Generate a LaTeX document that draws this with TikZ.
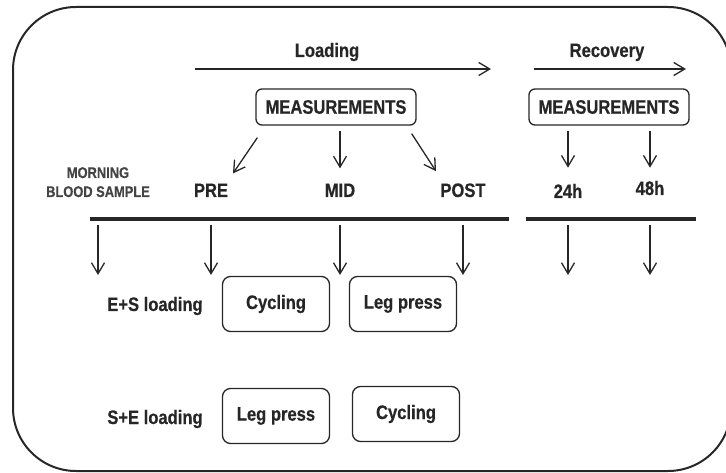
\documentclass[tikz,border=0pt]{standalone}
\usepackage{fontspec}
\usetikzlibrary{arrows.meta,positioning}
\newfontfamily\labfont{Liberation Sans}[FakeStretch=0.85,FakeBold=0.5]
\newfontfamily\notefont{Liberation Sans}[FakeStretch=0.83,FakeBold=0.4]
\definecolor{ink}{HTML}{262626}
\definecolor{note}{HTML}{444444}

\begin{document}
\begin{tikzpicture}[x=1pt,y=-1pt,on grid,
    >={Straight Barb[length=11pt,width=13pt]},
    arr/.style={->,draw=ink,line width=1.3pt},
    timeline/.style={draw=ink,line width=3.6pt},
    lab/.style={font=\labfont\bfseries\fontsize{19.5pt}{21pt}\selectfont,text=ink,inner sep=0pt,anchor=base},
    notelab/.style={font=\notefont\bfseries\fontsize{15.5pt}{17pt}\selectfont,text=note,inner sep=0pt,anchor=base},
    mbox/.style={draw=ink,line width=1.3pt,rounded corners=6pt,minimum width=160pt,minimum height=36pt,inner sep=0pt,
      font=\labfont\bfseries\fontsize{19.5pt}{21pt}\selectfont,text=ink},
    exbox/.style={draw=ink,line width=1.3pt,rounded corners=8pt,minimum width=107pt,minimum height=55pt,inner sep=0pt,
      font=\labfont\bfseries\fontsize{19.5pt}{21pt}\selectfont,text=ink}]
  \useasboundingbox (0,0) rectangle (726,473);
  \clip (0,0) rectangle (726,473);
  \draw[draw=ink,line width=2pt,rounded corners=63pt] (13,7) rectangle (731,471);

  \node[lab] (load) at (327,57) {Loading};
  \node[lab] (rec) at (607,57) {Recovery};
  \coordinate (l_a) at (195,69);
  \coordinate (l_b) at (491,69);
  \coordinate (r_a) at (534,69);
  \coordinate (r_b) at (686,69);
  \draw[arr] (l_a) -- (l_b);
  \draw[arr] (r_a) -- (r_b);

  \node[mbox] (m_1) at (336,107) {MEASUREMENTS};
  \node[mbox] (m_2) at (609,107) {MEASUREMENTS};

  \node[notelab] (morn) at (98,178) {MORNING};
  \node[notelab] (blood) at (98,197) {BLOOD SAMPLE};
  \node[lab] (pre) at (211,197) {PRE};
  \node[lab] (mid) at (340,197) {MID};
  \node[lab] (post) at (463,197) {POST};
  \node[lab] (h_24) at (568,198) {24h};
  \node[lab] (h_48) at (650,195) {48h};

  \draw[arr] ([xshift=2pt,yshift=-12pt]m_1.south west) -- ([xshift=22pt,yshift=10pt]pre.north);
  \draw[arr] ([xshift=-5pt,yshift=-8pt]m_1.south east) -- ([xshift=-27pt,yshift=12pt]post.north);
  \draw[arr,shorten <=5pt,shorten >=15pt] (m_1.south -| mid) -- (mid.north);
  \draw[arr,shorten <=5pt,shorten >=16pt] (m_2.south -| h_24) -- (h_24.north);
  \draw[arr,shorten <=5pt,shorten >=13pt] (m_2.south -| h_48) -- (h_48.north);

  \coordinate (t_1a) at (90,219);
  \coordinate (t_1b) at (509,219);
  \coordinate (t_2a) at (526,219);
  \coordinate (t_2b) at (696,219);
  \draw[timeline] (t_1a) -- (t_1b);
  \draw[timeline] (t_2a) -- (t_2b);
  \foreach \n in {blood,pre,mid,post,h_24,h_48}
    \draw[arr,shorten <=6pt] (\n |- t_1a) -- ++(0,56);

  \node[lab] (es) at (155,311) {E+S loading};
  \node[exbox] (cyc_1) at (276,304) {Cycling};
  \node[exbox,right=127pt of cyc_1] (leg_1) {Leg press};

  \node[lab] (se) at (155,424) {S+E loading};
  \node[exbox] (leg_2) at (276,416) {Leg press};
  \node[exbox] (cyc_2) at (406,414) {Cycling};
\end{tikzpicture}
\end{document}
